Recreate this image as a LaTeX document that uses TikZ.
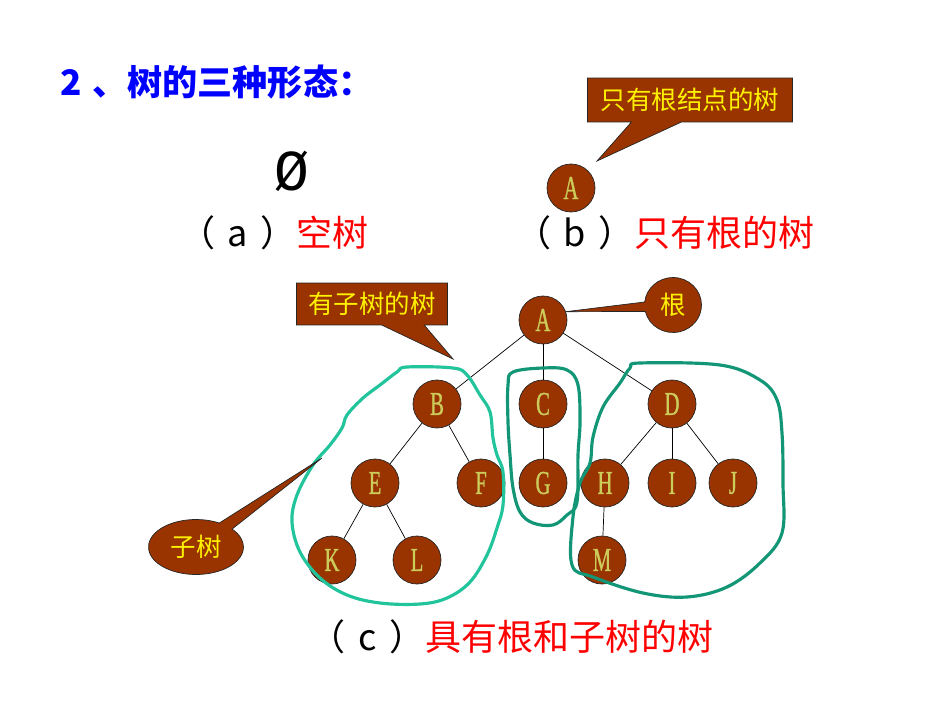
\documentclass[tikz,border=0pt]{standalone}
\usepackage{fontspec}
\usepackage{tikz}
\usetikzlibrary{shapes.geometric, shapes.callouts}
\newfontfamily\cjk{Noto Sans CJK SC}
\newfontfamily\slashfont{Liberation Mono}
\newfontfamily\letterfont[FakeStretch=0.62, FakeBold=0.8]{Liberation Serif}
\definecolor{bark}{RGB}{153,51,0}
\definecolor{leaf}{RGB}{204,204,90}
\definecolor{lightteal}{RGB}{34,196,156}
\definecolor{darkteal}{RGB}{18,150,118}
\tikzstyle{treenode} = [circle, minimum size=0.96cm, inner sep=0pt, draw=black!85, line width=0.4pt, fill=bark, text=leaf, font=\letterfont\fontsize{19}{19}\selectfont]
\tikzstyle{treeline} = [black, line width=0.4pt]
\tikzstyle{boxnote} = [rectangle callout, draw=black!85, fill=bark, text=yellow, inner sep=0pt, font=\cjk\fontsize{14.5}{14.5}\selectfont]
\tikzstyle{roundnote} = [ellipse callout, draw=black!85, fill=bark, text=yellow, inner sep=0pt, callout pointer arc=20, font=\cjk\fontsize{14.5}{14.5}\selectfont]
\tikzstyle{capt} = [inner sep=0pt, font=\cjk\fontsize{20.5}{20.5}\selectfont]
\tikzstyle{subloop} = [line width=1.8pt, line join=round]

\begin{document}
\begin{tikzpicture}[x=0.02cm, y=-0.02cm]
\useasboundingbox (0,0) rectangle (950,713);

% Titles
\node (title) [anchor=west, inner sep=0pt, text=blue, font=\cjk\bfseries\fontsize{20}{20}\selectfont] at (60,82) {2\hspace{.3em}、树的三种形态：};
\node (empty) [inner sep=0pt, font=\slashfont\fontsize{33}{33}\selectfont] at (292,171) {Ø};
\node (capa) [capt, anchor=east] at (369,233) {（\hspace{.35em}a\hspace{.35em}）\textcolor{red}{空树}};
\node (capb) [capt, anchor=east] at (815,233) {（\hspace{.35em}b\hspace{.35em}）\textcolor{red}{只有根的树}};
\node (capc) [capt, anchor=east] at (714,637) {（\hspace{.35em}c\hspace{.35em}）\textcolor{red}{具有根和子树的树}};

% Nodes
\node (ab) [treenode] at (571,188) {A};
\node (a) [treenode] at (543,320) {A};
\node (b) [treenode] at (437,404) {B};
\node (c) [treenode] at (543,404) {C};
\node (d) [treenode] at (672,404) {D};
\node (e) [treenode] at (375,483) {E};
\node (f) [treenode] at (481,483) {F};
\node (g) [treenode] at (543,483) {G};
\node (h) [treenode] at (605,483) {H};
\node (i) [treenode] at (672,483) {I};
\node (j) [treenode] at (733,483) {J};
\node (k) [treenode] at (332,560) {K};
\node (l) [treenode] at (417,560) {L};
\node (m) [treenode] at (602,560) {M};

% Lines
\draw [treeline] (a) -- (b);
\draw [treeline] (a) -- (c);
\draw [treeline] (a) -- (d);
\draw [treeline] (b) -- (e);
\draw [treeline] (b) -- (f);
\draw [treeline] (c) -- (g);
\draw [treeline] (d) -- (h);
\draw [treeline] (d) -- (i);
\draw [treeline] (d) -- (j);
\draw [treeline] (e) -- (k);
\draw [treeline] (e) -- (l);
\draw [treeline] (h) -- (m);

% Subtrees
\draw [subloop, lightteal] plot [smooth cycle, tension=0.6] coordinates {(407,367) (453,368) (467,375) (480,395) (490,412) (493,438) (497,455) (503,472) (503,505) (497,528) (487,555) (470,582) (447,598) (420,604) (380,603) (347,595) (320,578) (300,552) (292,522) (297,495) (313,465) (330,445) (342,428) (347,415) (363,398) (380,385) (397,372)};
\draw [subloop, darkteal] plot [smooth cycle, tension=0.6] coordinates {(513,372) (543,368) (567,370) (578,385) (580,422) (578,455) (577,502) (567,515) (553,525) (533,523) (520,512) (513,488) (510,455) (508,422) (508,385)};
\draw [subloop, darkteal] plot [smooth cycle, tension=0.6] coordinates {(640,363) (720,365) (760,380) (777,400) (782,433) (783,483) (782,533) (760,563) (727,587) (687,597) (643,593) (593,577) (572,565) (573,517) (580,483) (590,463) (593,437) (603,407) (620,383) (630,368)};

% Notes
\coordinate (tipb) at (597,161);
\coordinate (tipc) at (453,359);
\coordinate (tipsub) at (322,458);
\node (onlyroot) [boxnote, minimum width=4.1cm, minimum height=0.88cm, callout pointer width=1cm, callout absolute pointer={(tipb)}] at (690,100) {只有根结点的树};
\node (withsub) [boxnote, minimum width=3.02cm, minimum height=0.84cm, callout pointer width=0.85cm, callout absolute pointer={(tipc)}] at (372,304) {有子树的树};
\node (root) [roundnote, minimum width=1.14cm, minimum height=1.1cm, callout absolute pointer={(a.20)}] at (673,305) {根};
\node (sub) [roundnote, minimum width=1.9cm, minimum height=1.1cm, callout absolute pointer={(tipsub)}] at (196,547) {子树};

\end{tikzpicture}
\end{document}
